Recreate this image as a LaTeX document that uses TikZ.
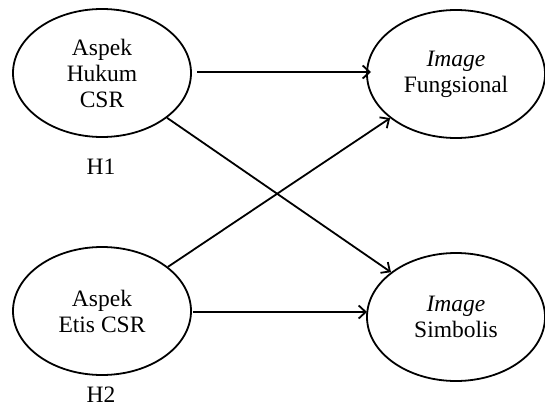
\documentclass[tikz,border=0pt]{standalone}
\usepackage{fontspec}
\setmainfont{Liberation Serif}
\usetikzlibrary{shapes.geometric,arrows.meta}
\begin{document}
\begin{tikzpicture}[x=1pt,y=-1pt,
  latent/.style={draw,line width=1.8pt,ellipse,minimum width=178pt,minimum height=128pt,inner sep=0pt,align=center,font=\fontsize{23.5}{26}\selectfont},
  lbl/.style={font=\fontsize{23.5}{26}\selectfont},
  path/.style={line width=1.8pt,-{Straight Barb[length=7pt,width=13pt,line width=1.8pt]}}]
\useasboundingbox (0,0) rectangle (545,407);
\node[latent] (hukum) at (102,73) {Aspek\\Hukum\\CSR};
\node[latent] (fung) at (456,74) {\textit{Image}\\Fungsional};
\node[latent] (etis) at (102,311) {Aspek\\Etis CSR};
\node[latent] (simb) at (456,317) {\textit{Image}\\Simbolis};
\node[lbl] (h1) at (101,167) {H1};
\node[lbl] (h2) at (101,395) {H2};
\coordinate (a1) at (197,72);
\coordinate (b1) at (371,72);
\coordinate (a2) at (193,312);
\coordinate (b2) at (367,312);
\draw[path] (a1) -- (b1);
\draw[path] (a2) -- (b2);
\draw[path] (hukum) -- (simb);
\draw[path] (etis) -- (fung);
\end{tikzpicture}
\end{document}
